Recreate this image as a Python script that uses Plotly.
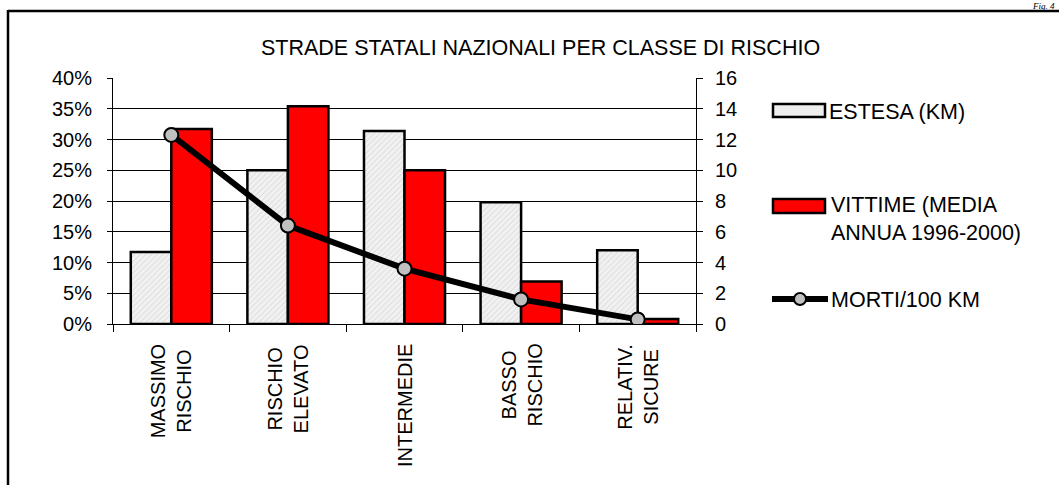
import plotly.graph_objects as go

# ---- data ----
categories = ["MASSIMO RISCHIO", "RISCHIO ELEVATO", "INTERMEDIE", "BASSO RISCHIO", "RELATIV. SICURE"]
tick_labels = ["MASSIMO<br>RISCHIO", "RISCHIO<br>ELEVATO", "INTERMEDIE", "BASSO<br>RISCHIO", "RELATIV.<br>SICURE"]
estesa = [0.117, 0.250, 0.314, 0.198, 0.120]
vittime = [0.317, 0.354, 0.250, 0.069, 0.008]
morti = [12.3, 6.4, 3.6, 1.6, 0.3]
title_text = "STRADE STATALI NAZIONALI PER CLASSE DI RISCHIO"
legend_names = ["ESTESA (KM)", "VITTIME (MEDIA<br>ANNUA 1996-2000)", "MORTI/100 KM"]

W, H = 1059, 485
L, R, T, B = 113, 696, 78, 324
PW, PH = R - L, B - T

def px(x):
    return (x - L) / PW

def py(y):
    return (B - y) / PH

FONT = "Liberation Sans, Arial, sans-serif"
FS = 20
FS_BIG = 21.5

fig = go.Figure()
fig.add_trace(go.Bar(
    x=categories, y=estesa, name=legend_names[0],
    marker=dict(color="#efefef", line=dict(color="black", width=2.5),
                pattern=dict(shape="/", fgcolor="#c4c4c4", bgcolor="#f2f2f2", size=4, solidity=0.25)),
    showlegend=False,
))
fig.add_trace(go.Bar(
    x=categories, y=vittime, name="VITTIME",
    marker=dict(color="#ff0000", line=dict(color="black", width=2.5)),
    showlegend=False,
))
fig.add_trace(go.Scatter(
    x=categories, y=morti, yaxis="y2", mode="lines+markers", name=legend_names[2],
    line=dict(color="black", width=6),
    marker=dict(size=14, color="#c0c0c0", line=dict(color="black", width=2)),
    showlegend=False,
))

fig.update_layout(
    width=W, height=H,
    margin=dict(l=L, r=W - R, t=T, b=H - B),
    paper_bgcolor="white", plot_bgcolor="white",
    barmode="group", bargap=0.305, bargroupgap=0,
    font=dict(family=FONT, size=FS, color="black"),
    xaxis=dict(
        type="category", showticklabels=False, ticks="outside", ticklen=7,
        tickson="boundaries", tickcolor="black", showline=True, linecolor="black",
        linewidth=1, showgrid=False, zeroline=False, range=[-0.5, 4.5],
    ),
    yaxis=dict(
        range=[0, 0.40], dtick=0.05, tickformat=".0%", ticks="outside", ticklen=5,
        tickcolor="black", showline=True, linecolor="black", linewidth=1,
        showgrid=True, gridcolor="black", gridwidth=1, zeroline=False,
        ticklabelstandoff=11, tickfont=dict(size=FS),
    ),
    yaxis2=dict(
        range=[0, 16], dtick=2, overlaying="y", side="right", ticks="outside",
        ticklen=6, tickcolor="black", showline=True, linecolor="black", linewidth=1,
        showgrid=False, zeroline=False, ticklabelstandoff=8, tickfont=dict(size=FS),
    ),
)

ann = []
# title
ann.append(dict(text=title_text, xref="paper", yref="paper", x=px(540), y=py(48),
                xanchor="center", yanchor="middle", showarrow=False, font=dict(size=FS_BIG)))
# rotated category labels
for c, t in zip(categories, tick_labels):
    ann.append(dict(text=t, xref="x", yref="paper", x=c, y=py(342), xanchor="center",
                    yanchor="top", textangle=-90, showarrow=False, align="center",
                    font=dict(size=FS)))
# legend texts
ann.append(dict(text=legend_names[0], xref="paper", yref="paper", x=px(827), y=py(112),
                xanchor="left", yanchor="middle", showarrow=False, align="left",
                font=dict(size=FS_BIG)))
ann.append(dict(text=legend_names[1], xref="paper", yref="paper", x=px(829), y=py(219),
                xanchor="left", yanchor="middle", showarrow=False, align="left",
                font=dict(size=FS_BIG)))
ann.append(dict(text=legend_names[2], xref="paper", yref="paper", x=px(829), y=py(300),
                xanchor="left", yanchor="middle", showarrow=False, align="left",
                font=dict(size=FS_BIG)))
# figure number at the top right
ann.append(dict(text="<i>Fig. 4</i>", xref="paper", yref="paper", x=px(1056), y=py(0),
                xanchor="right", yanchor="top", showarrow=False, borderpad=0,
                font=dict(family="Liberation Serif, Times New Roman, serif", size=9)))
fig.update_layout(annotations=ann)

shapes = []
# outer frame (top and left edges visible)
shapes.append(dict(type="line", xref="paper", yref="paper", x0=px(8), x1=px(1070),
                   y0=py(11), y1=py(11), line=dict(color="black", width=2.5)))
shapes.append(dict(type="line", xref="paper", yref="paper", x0=px(8), x1=px(8),
                   y0=py(10), y1=py(500), line=dict(color="black", width=2.5)))
# legend swatches
shapes.append(dict(type="rect", xref="paper", yref="paper", x0=px(773), x1=px(825),
                   y0=py(104), y1=py(117), fillcolor="#eeeeee",
                   line=dict(color="black", width=2.5)))
shapes.append(dict(type="rect", xref="paper", yref="paper", x0=px(773), x1=px(825),
                   y0=py(199), y1=py(213), fillcolor="#ff0000",
                   line=dict(color="black", width=2.5)))
shapes.append(dict(type="line", xref="paper", yref="paper", x0=px(772), x1=px(828),
                   y0=py(299), y1=py(299), line=dict(color="black", width=6)))
shapes.append(dict(type="circle", xref="paper", yref="paper", x0=px(794), x1=px(806),
                   y0=py(293), y1=py(305), fillcolor="#c0c0c0",
                   line=dict(color="black", width=2)))
fig.update_layout(shapes=shapes)

fig.write_html("out.html", config={"displayModeBar": False})

# remove the browser's default page margin so the figure sits at (0, 0)
with open("out.html", "r", encoding="utf-8") as f:
    html = f.read()
html = html.replace("<head>", "<head><style>html,body{margin:0;padding:0;overflow:hidden;}</style>", 1)
with open("out.html", "w", encoding="utf-8") as f:
    f.write(html)
